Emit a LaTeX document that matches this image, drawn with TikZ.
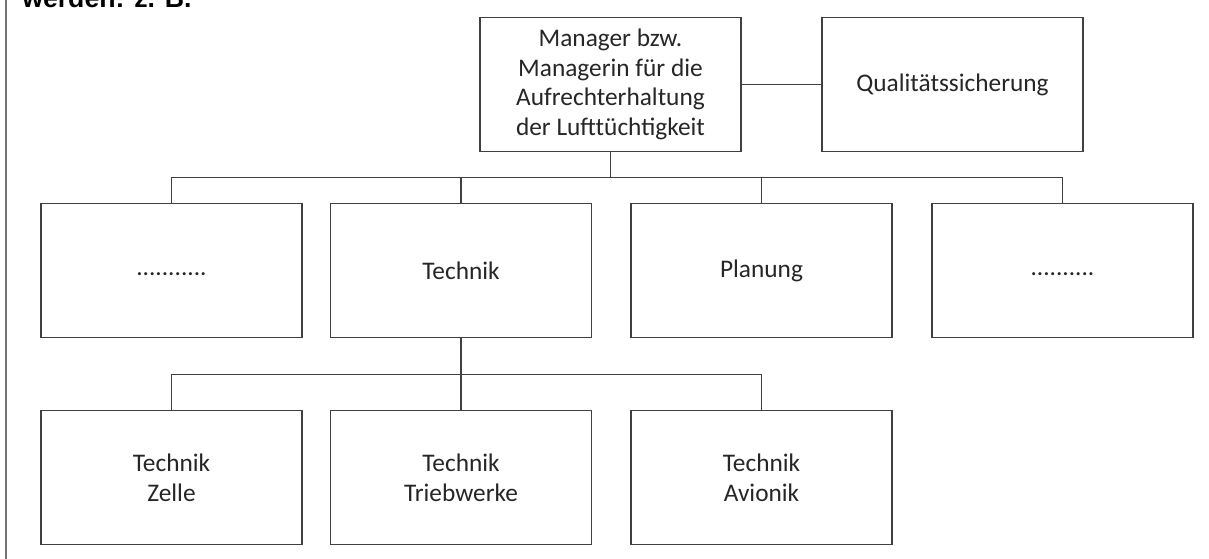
\documentclass[tikz,border=0pt]{standalone}
\usepackage{fontspec}
\setmainfont{Carlito}
\newfontfamily\headfont{Liberation Sans}
\definecolor{linec}{HTML}{404040}
\definecolor{textc}{HTML}{262626}
\begin{document}
\begin{tikzpicture}[x=0.75pt,y=-0.75pt,
  orgbox/.style={draw=linec,line width=1.3pt,fill=white,minimum width=195.75pt,minimum height=100.5pt,
    inner sep=0pt,align=center,text=textc,font=\fontsize{19}{22.3}\selectfont},
  conn/.style={draw=linec,line width=1.2pt}]
\useasboundingbox (0,0) rectangle (1209,559);
\begin{scope}
\clip (0,0) rectangle (1209,559);
\node[anchor=base west,inner sep=0pt,font=\headfont\bfseries\fontsize{20}{24}\selectfont,text=black] (head) at (22,8) {werden: z. B.};
\end{scope}
\coordinate (ftop) at (6,0);
\coordinate (fbot) at (6,559);
\draw[draw=gray!90!black,line width=1.5pt] (ftop) -- (fbot);

\node[orgbox] (m) at (610.5,84.5) {Manager bzw.\\Managerin für die\\Aufrechterhaltung\\der Lufttüchtigkeit};
\node[orgbox] (q) at (952.5,84.5) {Qualitätssicherung};

\node[orgbox] (b1) at (171.5,270.5) {\raisebox{-4pt}[0pt][0pt]{...........}};
\node[orgbox] (b2) at (461,270.5) {Technik};
\node[orgbox] (b3) at (761.5,270.5) {Planung};
\node[orgbox] (b4) at (1062.5,270.5) {\raisebox{-4pt}[0pt][0pt]{..........}};

\node[orgbox] (c1) at (171.5,477.5) {Technik\\Zelle};
\node[orgbox] (c2) at (461,477.5) {Technik\\Triebwerke};
\node[orgbox] (c3) at (761.5,477.5) {Technik\\Avionik};

\coordinate (bus1) at (0,177.5);
\coordinate (bus2) at (0,374.5);

\draw[conn] (m.east) -- (q.west);
\draw[conn] (m.south) -- (m.south |- bus1);
\draw[conn] (b1.north) -- (b1.north |- bus1) -- (b4.north |- bus1) -- (b4.north);
\draw[conn] (b2.north) -- (b2.north |- bus1);
\draw[conn] (b3.north) -- (b3.north |- bus1);

\draw[conn] (b2.south) -- (b2.south |- bus2);
\draw[conn] (c1.north) -- (c1.north |- bus2) -- (c3.north |- bus2) -- (c3.north);
\draw[conn] (c2.north) -- (c2.north |- bus2);
\end{tikzpicture}
\end{document}
